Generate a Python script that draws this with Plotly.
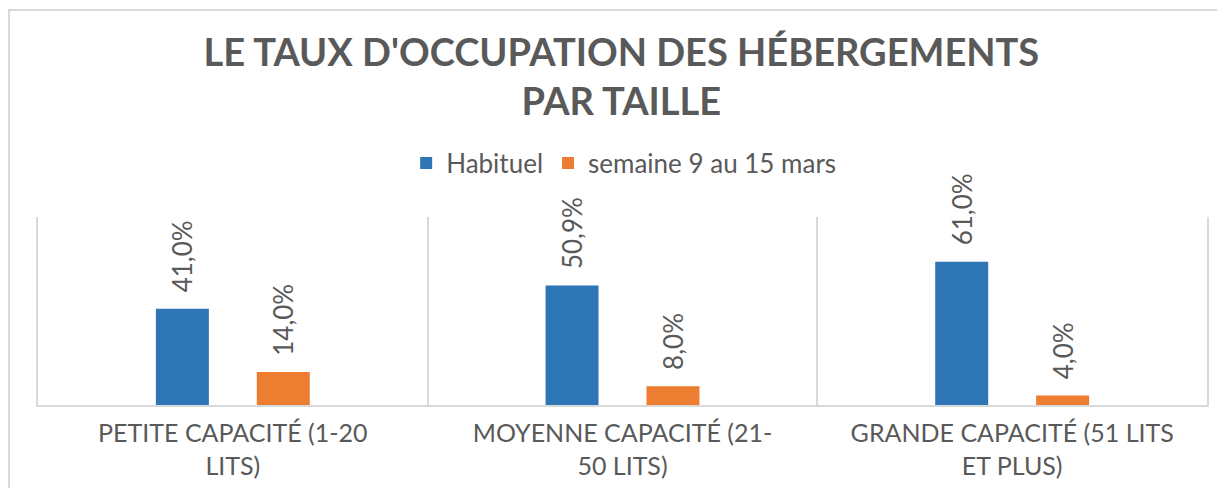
import plotly.graph_objects as go

categories = ["PETITE CAPACITÉ (1-20 LITS)", "MOYENNE CAPACITÉ (21-50 LITS)", "GRANDE CAPACITÉ (51 LITS ET PLUS)"]
tick_labels = ["PETITE CAPACITÉ (1-20<br>LITS)", "MOYENNE CAPACITÉ (21-<br>50 LITS)", "GRANDE CAPACITÉ (51 LITS<br>ET PLUS)"]
series_names = ["Habituel", "semaine 9 au 15 mars"]
habituel = [0.41, 0.509, 0.61]
semaine = [0.14, 0.08, 0.04]
colors = ["#2E75B6", "#ED7D31"]

GRAY = "#595959"
FONT = "Lato"

fig = go.Figure()
for name, vals, col in zip(series_names, [habituel, semaine], colors):
    fig.add_trace(go.Bar(
        x=categories, y=vals, name=name, marker=dict(color=col, line=dict(width=0)),
        texttemplate="\u00a0\u00a0%{y:.1%}", textposition="outside", textangle=-90,
        textfont=dict(family=FONT, size=26, color=GRAY), cliponaxis=False,
        constraintext="none",
    ))

fig.update_layout(
    width=1217, height=480,
    separators=", ",
    barmode="group", bargap=0.482, bargroupgap=0.475,
    plot_bgcolor="white", paper_bgcolor="white",
    margin=dict(l=30, r=18, t=209, b=83, autoexpand=False),
    font=dict(family=FONT, color=GRAY),
    title=dict(text="<b>LE TAUX D'OCCUPATION DES HÉBERGEMENTS<br>PAR TAILLE</b>",
               x=0.504, xanchor="center", y=0.879, yanchor="middle",
               font=dict(family=FONT, size=38, color=GRAY)),
    legend=dict(orientation="h", x=0.501, xanchor="center", y=1.287, yanchor="middle",
                font=dict(family=FONT, size=26, color=GRAY), itemwidth=30,
                bgcolor="rgba(0,0,0,0)"),
    xaxis=dict(tickmode="array", tickvals=categories, ticktext=tick_labels,
               tickson="boundaries", showgrid=True, gridcolor="#d9d9d9", gridwidth=1.5,
               showline=True, linecolor="#d9d9d9", linewidth=2, ticks="",
               ticklabelstandoff=5, automargin=False,
               tickfont=dict(family=FONT, size=25, color=GRAY)),
    yaxis=dict(range=[0, 0.8], showgrid=False, showticklabels=False, zeroline=False,
               showline=True, mirror=True, linecolor="#d9d9d9", linewidth=1.5, ticks="",
               automargin=False),
    shapes=[dict(type="rect", xref="paper", yref="paper", x0=-0.0248, x1=1.2, y0=-1, y1=2.101,
                 line=dict(color="#d9d9d9", width=2), fillcolor="rgba(0,0,0,0)", layer="below")],
)

fig.write_html("out.html")
